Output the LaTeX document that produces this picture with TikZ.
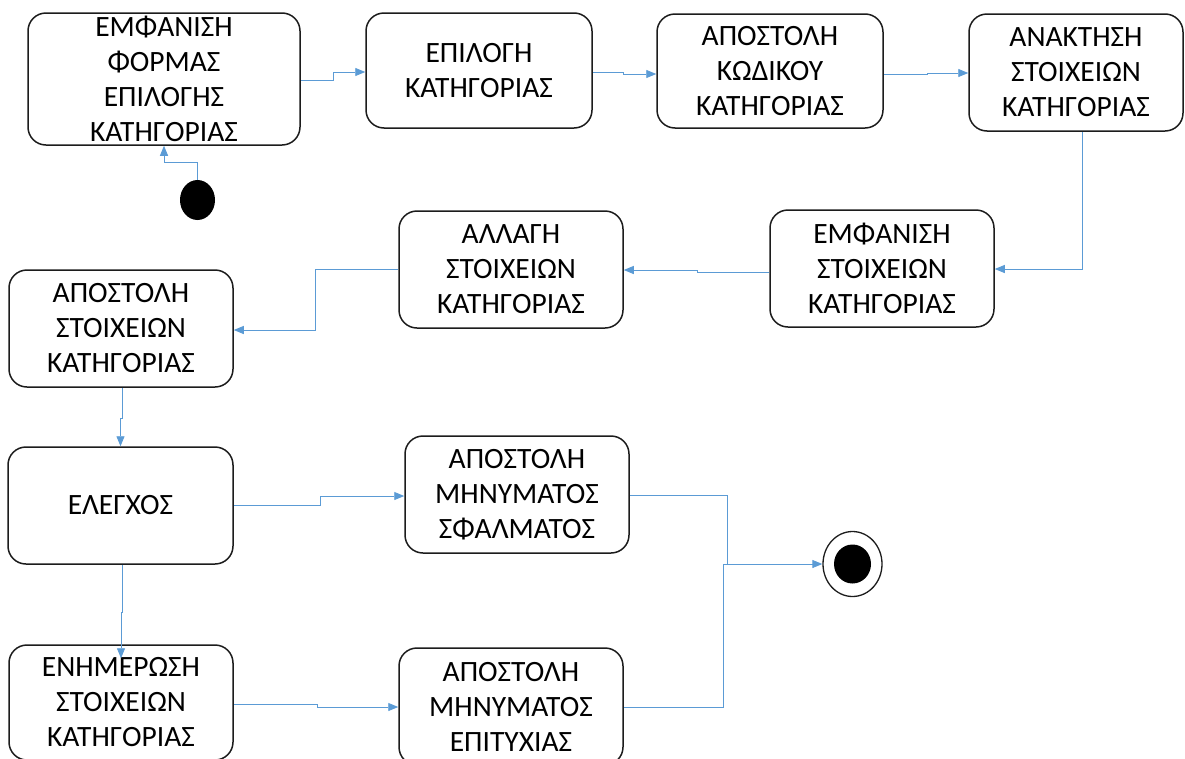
\documentclass[tikz,border=0pt]{standalone}
\usepackage{fontspec}
\setmainfont{Carlito}
\usetikzlibrary{arrows.meta,calc,shapes.geometric}
\definecolor{flow}{RGB}{91,155,213}
\definecolor{edge}{RGB}{28,28,28}
\tikzset{
  state/.style={draw=edge, line width=1.5pt, rounded corners=18pt, inner sep=0pt,
    align=center, font=\fontsize{29.5}{35}\selectfont, text=black},
  conn/.style={draw=flow, line width=0.9pt, -{Triangle[length=10pt,width=8pt]}},
  plain/.style={draw=flow, line width=0.9pt},
}
\begin{document}
\begin{tikzpicture}[x=1pt,y=-1pt]
\useasboundingbox (0,0) rectangle (1185,758);

% activity states
\node[state, minimum width=272pt, minimum height=132pt] (b1) at (164,79)
  {ΕΜΦΑΝΙΣΗ\\ΦΟΡΜΑΣ\\ΕΠΙΛΟΓΗΣ\\ΚΑΤΗΓΟΡΙΑΣ};
\node[state, minimum width=226pt, minimum height=115pt] (b2) at (479,70.5)
  {ΕΠΙΛΟΓΗ\\ΚΑΤΗΓΟΡΙΑΣ};
\node[state, minimum width=226pt, minimum height=114pt] (b3) at (770,71)
  {ΑΠΟΣΤΟΛΗ\\ΚΩΔΙΚΟΥ\\ΚΑΤΗΓΟΡΙΑΣ};
\node[state, minimum width=214pt, minimum height=117pt] (b4) at (1076,72.5)
  {ΑΝΑΚΤΗΣΗ\\ΣΤΟΙΧΕΙΩΝ\\ΚΑΤΗΓΟΡΙΑΣ};
\node[state, minimum width=224pt, minimum height=117pt] (b5) at (882,268.5)
  {ΕΜΦΑΝΙΣΗ\\ΣΤΟΙΧΕΙΩΝ\\ΚΑΤΗΓΟΡΙΑΣ};
\node[state, minimum width=224pt, minimum height=117pt] (b6) at (511,269.5)
  {ΑΛΛΑΓΗ\\ΣΤΟΙΧΕΙΩΝ\\ΚΑΤΗΓΟΡΙΑΣ};
\node[state, minimum width=224pt, minimum height=117pt] (b7) at (121,328.5)
  {ΑΠΟΣΤΟΛΗ\\ΣΤΟΙΧΕΙΩΝ\\ΚΑΤΗΓΟΡΙΑΣ};
\node[state, minimum width=225pt, minimum height=117pt] (b8) at (120.5,505.5)
  {ΕΛΕΓΧΟΣ};
\node[state, minimum width=224pt, minimum height=117pt] (b9) at (517,494.5)
  {ΑΠΟΣΤΟΛΗ\\ΜΗΝΥΜΑΤΟΣ\\ΣΦΑΛΜΑΤΟΣ};
\node[state, minimum width=224pt, minimum height=115pt] (b10) at (121,702.5)
  {ΕΝΗΜΕΡΩΣΗ\\ΣΤΟΙΧΕΙΩΝ\\ΚΑΤΗΓΟΡΙΑΣ};
\node[state, minimum width=224pt, minimum height=117pt] (b11) at (511,706.5)
  {ΑΠΟΣΤΟΛΗ\\ΜΗΝΥΜΑΤΟΣ\\ΕΠΙΤΥΧΙΑΣ};

% initial and final states
\node[ellipse, fill=black, minimum width=35pt, minimum height=40pt, inner sep=0pt] (init) at (197.5,200) {};
\node[ellipse, draw=edge, line width=1.3pt, fill=white, minimum width=59pt, minimum height=65pt, inner sep=0pt] (fin) at (852.5,564) {};
\node[ellipse, fill=black, minimum width=37pt, minimum height=39pt, inner sep=0pt] (finc) at (fin.center) {};
\coordinate (merge) at (727,564);

% transitions
\draw[conn] (init.north) -- ++(0,-17) -| (b1.south);
\draw[conn] ($(b1.east)+(0,1)$) -- ++(33,0) |- ($(b2.west)+(0,1.5)$);
\draw[conn] ($(b2.east)+(0,1.5)$) -- ++(31,0) |- ($(b3.west)+(0,3)$);
\draw[conn] ($(b3.east)+(0,3)$) -- ++(44,0) |- ($(b4.west)+(0,0.5)$);
\draw[conn] ($(b4.south)+(6,0)$) |- ($(b5.east)+(0,0.5)$);
\draw[conn] ($(b5.west)+(0,3.5)$) -- ++(-72,0) |- ($(b6.east)+(0,0.5)$);
\draw[conn] ($(b6.west)+(0,-0.5)$) -- ++(-83,0) |- ($(b7.east)+(0,1.5)$);
\draw[conn] ($(b7.south)+(1.5,0)$) -- ++(0,31) -| (b8.north);
\draw[conn] ($(b8.east)+(0,-0.5)$) -- ++(87,0) |- ($(b9.west)+(0,1.5)$);
\draw[conn] ($(b8.south)+(2,0)$) -- ++(0,48) -| ($(b10.north)+(0,14)$);
\draw[conn] ($(b10.east)+(0,1.5)$) -- ++(84,0) |- ($(b11.west)+(0,0.5)$);
\draw[conn] ($(b11.east)+(0,0.5)$) -- ++(100,0) |- (fin.west);
\draw[plain] ($(b9.east)+(0,0.5)$) -| (merge);
\end{tikzpicture}
\end{document}
